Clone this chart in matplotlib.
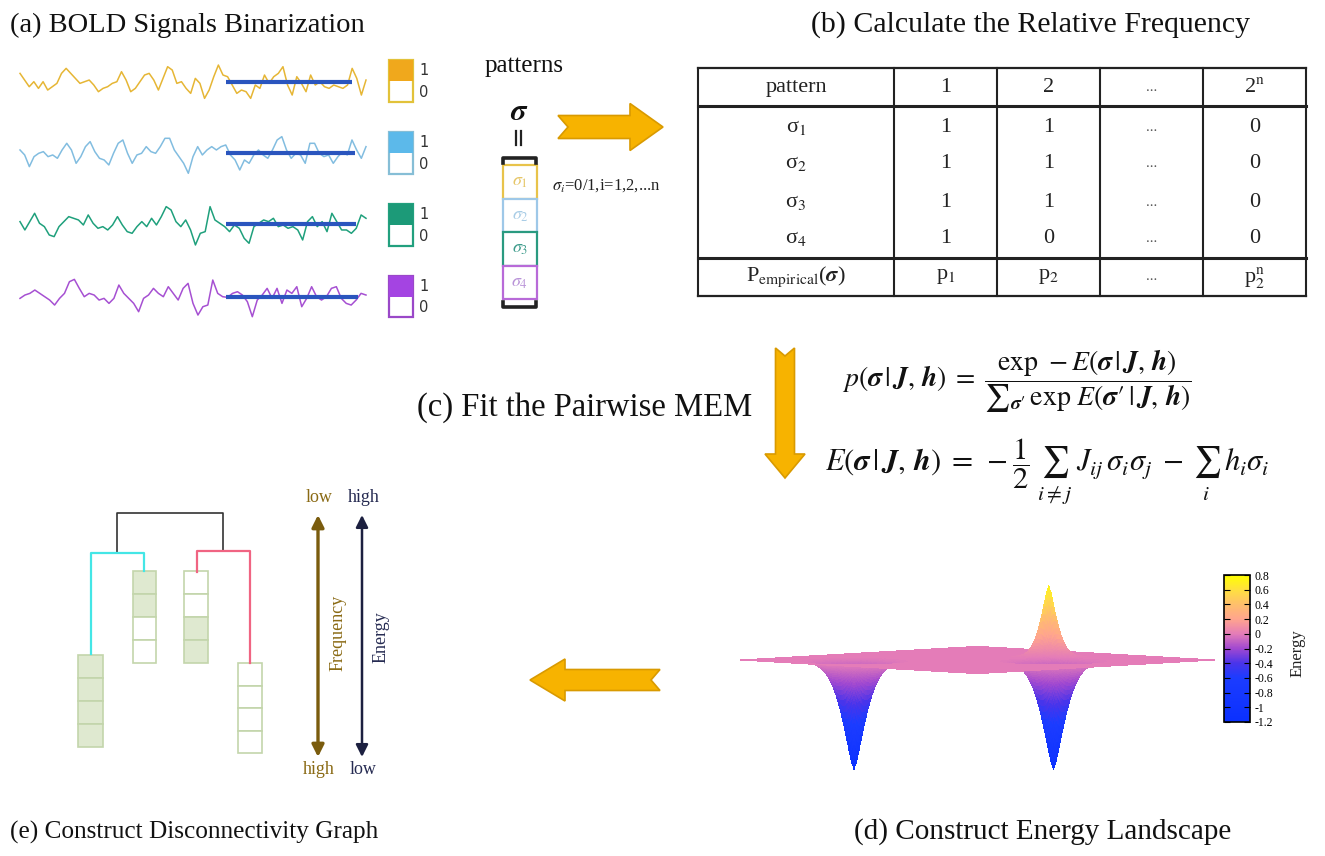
import numpy as np
import matplotlib
matplotlib.use('Agg')
import matplotlib.pyplot as plt
from matplotlib.patches import Rectangle, Polygon
from matplotlib.colors import LinearSegmentedColormap, Normalize
from matplotlib.cm import ScalarMappable
from mpl_toolkits.mplot3d import proj3d
from matplotlib.mathtext import MathTextParser

plt.rcParams['font.family'] = ['Liberation Serif', 'DejaVu Serif']
plt.rcParams['mathtext.fontset'] = 'stix'

# ---------------- data ----------------
titles = ['(a) BOLD Signals Binarization', '(b) Calculate the Relative Frequency',
          '(c) Fit the Pairwise MEM', '(d) Construct Energy Landscape',
          '(e) Construct Disconnectivity Graph']

bold1 = [25, 5, -15, 0, -20, 0, -25, -15, -5, 25, 40, 25, 10, -5, 0, 5, -10, -30, -20, -15, -5, 0, 30, 5,
         -30, -20, 0, 20, 25, 5, -25, 10, 45, 35, -5, 0, -20, -35, 10, -5, -50, -25, 15, 50, 20, 15, -10,
         -35, -25, -30, -50, -10, -20, 20, -5, 15, 25, 45, -10, -40, 15, -5, -30, 20, -10, 0, -15, -20,
         -10, -15, -20, -10, 40, 10, -40, 5]
bold2 = [10, -5, -40, -10, 0, 5, -10, -5, -15, 10, 30, 10, -30, -10, 20, 35, 5, -15, -20, -35, 0, 30, 40, 0,
         -30, -5, 0, 20, 5, 0, 20, 45, 45, 10, -10, -30, -60, -10, 20, -5, 10, 20, 10, 20, 25, -5, -20, -50,
         -20, -30, -5, 10, -5, -15, 10, 40, 50, 10, -15, 0, -5, -30, 30, 30, 0, -10, -5, -30, -10, 5, -5,
         40, 10, -15, 20]
bold3 = [8, -17, 8, 33, 3, -7, -32, -37, -7, 8, 23, 18, 13, -2, 28, 3, -12, -7, -17, -2, 23, -2, -22, -27,
         -7, 8, -7, 18, -2, 23, 53, 43, 8, -7, 13, -17, -62, -27, -22, 53, 13, 3, -7, -22, -2, -12, -42, -57,
         -7, 3, 13, 8, 18, -7, -2, -12, -7, -17, -47, 8, 23, -7, 8, -22, 33, 8, -17, -17, -27, -12, 28, 18]
bold4 = [-5, 5, 10, 20, 10, 0, -10, -25, -5, 10, 45, 52, 25, 0, 10, 5, -10, -5, -20, -5, 35, 10, -5, -20,
         -45, -5, 5, 25, 10, 0, 30, 10, -10, 25, 40, -20, -55, -30, -25, 50, 10, 0, -2, 10, 15, 5, -15, -60,
         -10, 5, 25, -5, 25, -20, 20, 10, 30, -30, -5, 30, 0, -10, 0, 25, 30, -5, -20, -25, -10, 10, 5]
bold_signals = [bold1, bold2, bold3, bold4]
signal_colors = ['#e6b635', '#82bde0', '#1fa07c', '#a650d2']
fill_colors = ['#f0a81c', '#5cb9ea', '#1c9a78', '#a444e2']
box_edge_colors = ['#e2c23a', '#86bed6', '#22a07e', '#9a48c8']

pattern_labels = [r'$\sigma_1$', r'$\sigma_2$', r'$\sigma_3$', r'$\sigma_4$']
pattern_edge = ['#e8c34a', '#9ec8e8', '#2a9a80', '#b86ad8']
pattern_text = ['#e6c668', '#a9cde6', '#3f9c8c', '#b993d8']

table_header = ['pattern', '1', '2', '...', '2$^{\\rm n}$']
table_rows = ['σ$_1$', 'σ$_2$', 'σ$_3$', 'σ$_4$']
table_values = [['1', '1', '...', '0'],
                ['1', '1', '...', '0'],
                ['1', '1', '...', '0'],
                ['1', '0', '...', '0']]

# energy landscape: local minima / maximum (position on the pattern plane, energy, width)
site_x = [-0.62, 0.22, 0.50]
site_y = [0.42, -0.42, -0.10]
site_energy = [-1.2, -1.2, 0.8]
site_width = [0.096, 0.096, 0.065]
site_shape = 1.4

cbar_ticks = [0.8, 0.6, 0.4, 0.2, 0.0, -0.2, -0.4, -0.6, -0.8, -1.0, -1.2]
cbar_labels = ['0.8', '0.6', '0.4', '0.2', '0', '-0.2', '-0.4', '-0.6', '-0.8', '-1', '-1.2']

state_patterns = [[1, 1, 1, 1], [1, 1, 0, 0], [0, 0, 1, 1], [0, 0, 0, 0]]

# ---------------- canvas ----------------
W, H = 1325, 856
fig = plt.figure(figsize=(13.25, 8.56), dpi=100)
fig.patch.set_facecolor('white')
ax = fig.add_axes([0, 0, 1, 1])
ax.set_xlim(0, W)
ax.set_ylim(H, 0)
ax.axis('off')


def mt_ok(s):
    try:
        MathTextParser('path').parse(s)
        return True
    except Exception:
        return False


BF = r'\boldsymbol' if mt_ok(r'$\boldsymbol{\sigma}$') else r'\mathbf'


def bs(c):
    return BF + '{' + c + '}'


ax.text(10, 25, titles[0], fontsize=20.5, ha='left', va='center', color='#111')
ax.text(1031, 25, titles[1], fontsize=21.5, ha='center', va='center', color='#111')
ax.text(417, 408, titles[2], fontsize=23.5, ha='left', va='center', color='#111')
ax.text(1043, 832, titles[3], fontsize=21, ha='center', va='center', color='#111')
ax.text(10, 832, titles[4], fontsize=18.2, ha='left', va='center', color='#111')

# ---------------- (a) signals ----------------
centers = [81.7, 153.3, 224.3, 296.7]
thr_end = [352, 355, 356, 358]
legend_boxes = [(60, 102), (132, 174), (204, 246), (276, 317)]
for k, sig in enumerate(bold_signals):
    v = np.array(sig, dtype=float)
    xs = np.linspace(20, 366, len(v))
    ax.plot(xs, centers[k] - v / 3.0, color=signal_colors[k], lw=1.1)
    ax.plot([226, thr_end[k]], [centers[k], centers[k]], color='#2a55be', lw=3, solid_capstyle='butt')
    t, b = legend_boxes[k]
    ax.add_patch(Rectangle((389, t), 24, b - t, facecolor='white', edgecolor=box_edge_colors[k], lw=1.6))
    ax.add_patch(Rectangle((389, t), 24, (b - t) / 2, facecolor=fill_colors[k], edgecolor='none'))
    ax.text(419, t + (b - t) * 0.25, '1', fontsize=10.5, family='DejaVu Sans', ha='left', va='center', color='#333')
    ax.text(419, t + (b - t) * 0.77, '0', fontsize=10.5, family='DejaVu Sans', ha='left', va='center', color='#333')

# ---------------- patterns ----------------
ax.text(485, 66, 'patterns', fontsize=18, ha='left', va='center', color='#111')
ax.text(519, 112, '$' + bs(r'\sigma') + '$', fontsize=22, ha='center', va='center', color='#111')
ax.plot([516, 516], [131, 145], color='#222', lw=1.6)
ax.plot([521, 521], [131, 145], color='#222', lw=1.6)
ax.plot([503, 503, 536, 536], [163, 158, 158, 163], color='#222', lw=2.6)
ax.plot([503, 503, 536, 536], [302, 307, 307, 302], color='#222', lw=2.6)
rows_y = [165, 198.5, 232, 265.5, 299]
for k in range(4):
    ax.add_patch(Rectangle((503, rows_y[k]), 34, rows_y[k + 1] - rows_y[k], facecolor='white',
                           edgecolor=pattern_edge[k], lw=1.6))
    ax.text(520, (rows_y[k] + rows_y[k + 1]) / 2, pattern_labels[k], fontsize=13, ha='center', va='center',
            color=pattern_text[k])
ax.text(552, 186, r'$\sigma_i$=0/1,i=1,2,...n', fontsize=12, ha='left', va='center', color='#222')


# ---------------- block arrows ----------------
def block_arrow(x0, y0, x1, y1, sw, hw, hl, nd):
    d = np.array([x1 - x0, y1 - y0], dtype=float)
    L = np.hypot(*d)
    d /= L
    n = np.array([-d[1], d[0]])
    loc = [(0, sw), (L - hl, sw), (L - hl, hw), (L, 0), (L - hl, -hw), (L - hl, -sw), (0, -sw), (nd, 0)]
    pts = [np.array([x0, y0]) + a * d + b * n for a, b in loc]
    ax.add_patch(Polygon(pts, closed=True, facecolor='#f7b300', edgecolor='#d99a00', lw=1.2, zorder=3))


block_arrow(558, 127, 663, 127, 11.5, 23.5, 33, 10)
block_arrow(785, 348, 785, 478, 9.5, 20, 24, 8)
block_arrow(660, 680, 530, 680, 10.5, 21, 35, 9)

# ---------------- (b) table ----------------
col_x = [698, 894, 997, 1100, 1203, 1306]
y_top, y_head, y_prow, y_bot = 68, 106, 258, 296
lc = '#222'
for x in col_x:
    ax.plot([x, x], [y_top, y_bot], color=lc, lw=1.5)
for y, lw in [(y_top, 1.6), (y_head, 2.2), (y_prow, 2.2), (y_bot, 1.6)]:
    ax.plot([col_x[0], col_x[-1]], [y, y], color=lc, lw=lw)
col_c = [(col_x[i] + col_x[i + 1]) / 2 for i in range(5)]
TF = 16
for i, s in enumerate(table_header):
    ax.text(col_c[i], 87, s, fontsize=TF if s != '...' else 11, ha='center', va='center',
            color='#222' if s != '...' else '#555')
row_y = [127, 163, 202, 238]
for r in range(4):
    ax.text(col_c[0], row_y[r], table_rows[r], fontsize=TF, ha='center', va='center', color='#222')
    for c in range(4):
        s = table_values[r][c]
        ax.text(col_c[c + 1], row_y[r], s, fontsize=TF if s != '...' else 11, ha='center', va='center',
                color='#222' if s != '...' else '#555')
p_row = ['P$_{\\rm empirical}$($' + bs(r'\sigma') + '$)', 'p$_1$', 'p$_2$', '...', 'p$_2^{\\rm n}$']
for i, s in enumerate(p_row):
    ax.text(col_c[i], 277, s, fontsize=TF if s != '...' else 11, ha='center', va='center',
            color='#222' if s != '...' else '#555')

# ---------------- (c) formulas ----------------
S, J, hh = bs(r'\sigma'), bs('J'), bs('h')
cond = r'\,|\,' + J + r',\,' + hh
f1 = ('$p(' + S + cond + r')\;=\;\dfrac{\exp\,-E(' + S + cond + r')}{{\sum}_{' + S + r'\prime}\,\exp\,E(' +
      S + r'\prime' + cond + ')}$')
f2 = ('$E(' + S + cond + r')\;=\;-\dfrac{1}{2}\;\sum_{i\neq j}\;J_{ij}\,\sigma_i\sigma_j\;-\;\sum_{i}\;h_i\sigma_i$')
if not mt_ok(f1):
    f1 = f1.replace(r'{\sum}', r'\sum')
ax.text(842, 381, f1, fontsize=20, ha='left', va='center', color='#111')
ax.text(825, 472, f2, fontsize=22, ha='left', va='baseline', color='#111')

# ---------------- (e) disconnectivity graph ----------------
ax.plot([117, 117, 223, 223], [553, 513, 513, 551], color='#333', lw=1.2)
ax.plot([91, 91, 144, 144], [654, 553, 553, 571], color='#44e6e6', lw=1.6)
ax.plot([197, 197, 250, 250], [572, 551, 551, 663], color='#f06482', lw=1.6)
state_boxes = [(78, 655, 25, 92), (133, 571, 23, 92), (184, 571, 24, 92), (238, 663, 24, 90)]
for (bx, by, bw, bh), pat in zip(state_boxes, state_patterns):
    ch = bh / 4
    for j, on in enumerate(pat):
        ax.add_patch(Rectangle((bx, by + j * ch), bw, ch, facecolor='#dfe9d0' if on else 'white',
                               edgecolor='#c3d5ab', lw=1.2))
freq_c = '#7a5c0e'
en_c = '#1c2040'
ax.annotate('', xy=(318, 515), xytext=(318, 757),
            arrowprops=dict(arrowstyle='<|-|>', color=freq_c, lw=2.4, mutation_scale=18, shrinkA=0, shrinkB=0))
ax.annotate('', xy=(362, 515), xytext=(362, 757),
            arrowprops=dict(arrowstyle='<|-|>', color=en_c, lw=1.8, mutation_scale=18, shrinkA=0, shrinkB=0))
ax.text(319, 497, 'low', fontsize=13, ha='center', va='center', color='#8a6a14')
ax.text(364, 497, 'high', fontsize=13, ha='center', va='center', color='#262b52')
ax.text(319, 770, 'high', fontsize=13, ha='center', va='center', color='#8a6a14')
ax.text(363, 770, 'low', fontsize=13, ha='center', va='center', color='#262b52')
ax.text(338, 633, 'Frequency', fontsize=13, rotation=90, ha='center', va='center', color='#8a6a14')
ax.text(381, 637, 'Energy', fontsize=13, rotation=90, ha='center', va='center', color='#262b52')

# ---------------- (d) energy landscape ----------------
cmap = LinearSegmentedColormap.from_list('energy', [
    (0.00, '#0a30ff'), (0.30, '#1c3cff'), (0.40, '#4a34ea'), (0.50, '#a048d0'),
    (0.60, '#e47cb8'), (0.70, '#ffa48e'), (0.80, '#ffbf6c'), (0.90, '#ffe040'), (1.00, '#ffff00')])
norm = Normalize(vmin=-1.2, vmax=0.8)

g = np.linspace(-1, 1, 201)
X, Y = np.meshgrid(g, g)
Z = np.zeros_like(X)
for cx, cy, e, w in zip(site_x, site_y, site_energy, site_width):
    R = np.hypot(X - cx, Y - cy)
    Z += e * np.exp(-(R / w) ** site_shape)

ax3 = fig.add_axes([0.52, 0.08, 0.42, 0.32], projection='3d')
ax3.set_proj_type('ortho')
ax3.patch.set_alpha(0)
ax3.plot_surface(X, Y, Z, facecolors=cmap(norm(Z)), rstride=1, cstride=1, linewidth=0,
                 antialiased=False, shade=False)
ax3.set_xlim(-1, 1)
ax3.set_ylim(-1, 1)
ax3.set_zlim(-1.2, 0.8)
ax3.view_init(elev=3.3, azim=-135)
ax3.set_axis_off()

# fit the 3D view to the target region (pixel coordinates, y down)
want_L = np.array([740.0, H - 660.0])
want_R = np.array([1215.0, H - 664.0])
want_tip_drop = 108.0
zr = 0.54
for it in range(4):
    ax3.set_box_aspect((1, 1, zr))
    fig.canvas.draw()

    def disp(x, y, z):
        xs, ys, _ = proj3d.proj_transform(x, y, z, ax3.get_proj())
        return ax3.transData.transform((xs, ys))

    pL = disp(-1, 1, 0)
    pR = disp(1, -1, 0)
    pT = disp(site_x[0], site_y[0], site_energy[0])
    pC = disp(site_x[0], site_y[0], 0)
    s = np.hypot(*(want_R - want_L)) / np.hypot(*(pR - pL))
    drop = (pC[1] - pT[1]) * s
    zr *= want_tip_drop / drop
    bb = ax3.get_position()
    x0, y0 = bb.x0 * W, bb.y0 * H
    nx0 = want_L[0] - s * (pL[0] - x0)
    ny0 = want_L[1] - s * (pL[1] - y0)
    ax3.set_position([nx0 / W, ny0 / H, bb.width * s, bb.height * s])

# colorbar
cax = fig.add_axes([1224 / W, 1 - 722 / H, 26 / W, 147 / H])
cb = fig.colorbar(ScalarMappable(norm=norm, cmap=cmap), cax=cax)
cb.set_ticks(cbar_ticks)
cb.set_ticklabels(cbar_labels)
cax.tick_params(labelsize=8.5, direction='in', length=4, width=0.8, left=True, right=True, pad=3)
cb.outline.set_linewidth(1.2)
ax.text(1298, 653, 'Energy', fontsize=12, rotation=90, ha='center', va='center', color='#222')

fig.savefig('out.png', dpi=100, facecolor='white')
